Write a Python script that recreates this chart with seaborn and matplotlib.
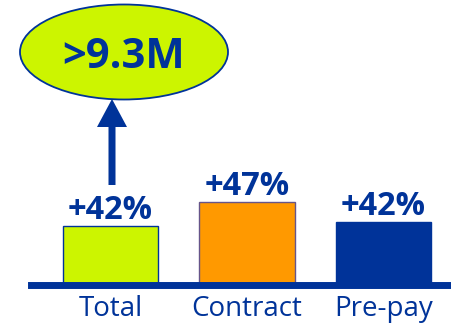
import matplotlib
matplotlib.use("Agg")
import matplotlib.pyplot as plt
from matplotlib.patches import Ellipse, FancyArrow
import seaborn as sns

# Subscriber base by plan type (relative bar heights) and year-on-year growth
categories = ["Total", "Contract", "Pre-pay"]
heights = [58.5, 82.5, 62.5]
growth_labels = ["+42%", "+47%", "+42%"]
total_callout = ">9.3M"

NAVY = "#003399"
LIME = "#CCF500"
ORANGE = "#FF9900"
bar_colors = [LIME, ORANGE, NAVY]
edge_colors = [NAVY, "#66558A", NAVY]

sns.set_theme(style="white")
plt.rcParams["font.family"] = ["Open Sans", "DejaVu Sans"]

W, H = 451, 325
fig = plt.figure(figsize=(W / 100, H / 100), dpi=100)
left_px, base_px = 31, 284.5
ax = fig.add_axes([left_px / W, (H - base_px) / H, (W - left_px) / W, base_px / H])

sns.barplot(x=categories, y=heights, hue=categories, palette=bar_colors,
            width=0.696, legend=False, saturation=1, ax=ax)
for patch, ec in zip(ax.patches, edge_colors):
    patch.set_edgecolor(ec)
    patch.set_linewidth(1.0)

spacing = 136.5
ax.set_xlim(-79.5 / spacing, (W - left_px - 79.5) / spacing)
ax.set_ylim(0, base_px)

# growth labels above each bar
for i, (h, lab) in enumerate(zip(heights, growth_labels)):
    ax.annotate(lab, (i, h), xytext=(0, 5), textcoords="offset points",
                ha="center", va="baseline", fontsize=23.5, fontweight="bold",
                color=NAVY)

# arrow from the Total bar up to the callout
shaft_bottom = heights[0] + 41
tip = 185.5
ax.add_patch(FancyArrow(0.011, shaft_bottom, 0, tip - shaft_bottom,
                        width=7 / spacing, head_width=30 / spacing,
                        head_length=28, length_includes_head=True,
                        color=NAVY, linewidth=0, clip_on=False))

# callout ellipse
ex = (124 - left_px - 79.5) / spacing
ey = base_px - 52
ax.add_patch(Ellipse((ex, ey), 208 / spacing, 95, facecolor=LIME,
                     edgecolor=NAVY, linewidth=1.3, clip_on=False, zorder=3))
ax.text(ex, ey, total_callout, ha="center", va="center_baseline",
        fontsize=30, fontweight="bold", color=NAVY, zorder=4)

for side in ["left", "right", "top"]:
    ax.spines[side].set_visible(False)
ax.spines["bottom"].set_color(NAVY)
ax.spines["bottom"].set_linewidth(5.0)
ax.set_yticks([])
ax.tick_params(axis="x", length=0, pad=7.5, labelsize=20, labelcolor=NAVY)
ax.set_xlabel("")
ax.set_ylabel("")

fig.savefig("out.png", dpi=100)
